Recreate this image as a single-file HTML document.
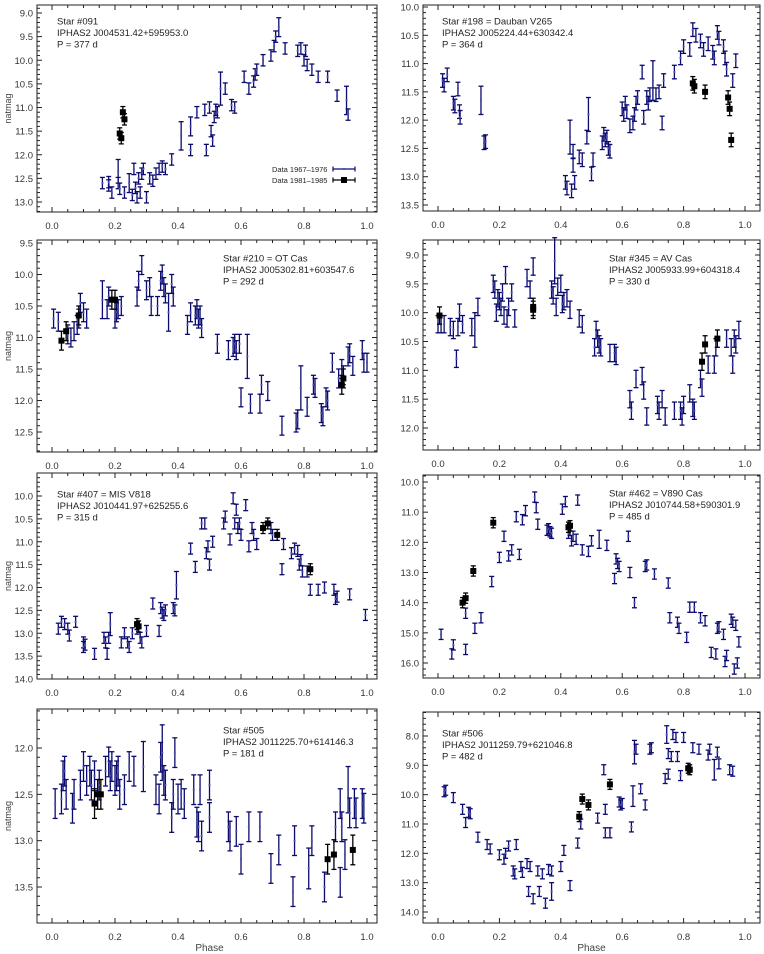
<!DOCTYPE html>
<html><head><meta charset="utf-8"><style>
html,body{margin:0;padding:0;background:#fff;}
svg{display:block;font-family:"Liberation Sans",sans-serif;}
</style></head><body>
<svg id="fig" width="764" height="954" viewBox="0 0 764 954" xmlns="http://www.w3.org/2000/svg"></svg>
<script>
// ---- data: [phase, mag, err?] ----
const p091Blue=[[0.16,12.6],[0.18,12.65],[0.18,12.58],[0.19,12.8],[0.21,12.35,0.25],[0.21,12.6],[0.215,12.72],[0.23,12.8],[0.245,12.6,0.2],[0.255,12.85],[0.26,12.3],[0.265,12.7],[0.27,12.9],[0.275,12.5],[0.28,12.8],[0.285,12.4],[0.29,12.3],[0.3,12.9],[0.31,12.5],[0.32,12.55],[0.33,12.4],[0.34,12.3],[0.35,12.25],[0.36,12.3],[0.38,12.1],[0.41,11.6,0.3],[0.44,11.4,0.2],[0.44,11.9],[0.46,11.1],[0.485,11.05],[0.49,11.9],[0.5,11.0],[0.505,11.5],[0.51,11.7],[0.515,11.2],[0.52,11.05],[0.525,11.1],[0.535,10.6,0.35],[0.55,10.6],[0.57,10.95],[0.58,11.0],[0.61,10.35],[0.625,10.6],[0.64,10.45],[0.645,10.3],[0.65,10.2],[0.67,10.0],[0.695,9.9],[0.705,9.7],[0.71,9.5],[0.72,9.3,0.2],[0.74,9.75],[0.78,9.8],[0.79,9.75],[0.8,10.0],[0.805,9.8],[0.81,10.1],[0.825,10.2],[0.845,10.35],[0.875,10.35],[0.905,10.75],[0.935,10.85,0.3],[0.94,11.15]];
const p091Black=[[0.215,11.55],[0.22,11.65],[0.225,11.1],[0.23,11.25]];
const p198Blue=[[0.015,11.3],[0.02,11.38],[0.03,11.2],[0.05,11.7],[0.055,11.75],[0.065,11.45],[0.07,11.85],[0.072,11.95],[0.14,11.65,0.25],[0.15,12.4],[0.155,12.38],[0.415,13.1],[0.42,13.2],[0.43,12.3,0.3],[0.435,13.25],[0.44,12.55],[0.44,12.8],[0.445,13.1],[0.46,12.65],[0.47,12.7],[0.485,12.3],[0.49,11.9,0.3],[0.5,12.95],[0.505,12.7],[0.535,12.4],[0.54,12.25],[0.545,12.35],[0.55,12.3],[0.555,12.5],[0.56,12.55],[0.6,11.8],[0.605,11.9],[0.61,11.7],[0.615,11.85],[0.625,12.1],[0.635,12.05],[0.64,11.9],[0.645,11.7],[0.65,11.6],[0.665,11.15],[0.67,11.95],[0.68,11.6],[0.685,11.7],[0.69,11.55],[0.7,11.3,0.35],[0.71,11.55],[0.72,11.5],[0.73,12.05],[0.735,11.3],[0.77,11.15],[0.79,10.9],[0.8,10.7],[0.82,10.75],[0.83,10.4],[0.84,10.5],[0.855,10.6],[0.865,10.75],[0.88,10.65],[0.895,10.8],[0.9,10.9],[0.91,10.45],[0.915,10.55],[0.93,10.7],[0.935,10.9],[0.94,11.1],[0.96,11.3],[0.97,10.95]];
const p198Black=[[0.83,11.35],[0.835,11.4],[0.87,11.5],[0.945,11.6],[0.95,11.8],[0.955,12.35]];
const p210Blue=[[0.005,10.7],[0.02,10.75],[0.05,10.95],[0.06,11.0],[0.07,10.9],[0.08,10.8],[0.085,10.7],[0.09,10.45],[0.1,10.6],[0.11,10.7],[0.16,10.4,0.3],[0.175,10.55],[0.18,10.35],[0.2,10.7],[0.205,10.6],[0.21,10.55],[0.22,10.5],[0.27,10.35],[0.275,10.1],[0.285,9.85],[0.3,10.25],[0.31,10.2],[0.315,10.5],[0.335,10.5],[0.345,10.1],[0.35,10.0],[0.355,10.2],[0.36,10.3],[0.37,10.6,0.3],[0.38,10.15],[0.385,10.35],[0.43,10.8],[0.44,10.6],[0.455,10.65],[0.46,10.55],[0.465,10.7],[0.47,10.65],[0.475,10.85],[0.525,11.1],[0.56,11.2],[0.575,11.15],[0.58,11.1],[0.585,11.2],[0.595,11.1],[0.62,11.3,0.35],[0.6,11.95],[0.63,12.05],[0.66,12.05],[0.665,11.75],[0.685,11.85],[0.73,12.4],[0.775,12.35],[0.78,12.3],[0.79,11.8,0.35],[0.81,12.1],[0.83,11.75],[0.835,11.8],[0.855,12.2],[0.86,12.25],[0.87,11.95],[0.875,12.0],[0.89,11.4],[0.91,11.65],[0.92,11.5],[0.925,11.6],[0.94,11.3],[0.945,11.25],[0.955,11.45],[0.985,11.2],[0.99,11.4],[1.0,11.4]];
const p210Black=[[0.03,11.05],[0.045,10.9],[0.085,10.65],[0.19,10.4],[0.2,10.4],[0.92,11.75],[0.925,11.65]];
const p345Blue=[[0.0,10.2],[0.01,10.2],[0.02,10.2],[0.04,10.25],[0.05,10.3],[0.06,10.8],[0.065,10.25],[0.07,10.0],[0.08,10.2],[0.11,10.25],[0.12,10.3,0.3],[0.13,9.9],[0.18,9.5],[0.185,9.6],[0.19,10.0],[0.195,9.75],[0.2,9.8],[0.205,9.9],[0.21,9.65],[0.215,10.05],[0.22,9.35],[0.225,10.1],[0.23,9.9],[0.24,9.65],[0.25,10.1],[0.29,9.4],[0.3,9.6],[0.31,9.2],[0.37,9.6],[0.375,9.7],[0.38,9.1,0.4],[0.385,9.9],[0.39,9.55],[0.4,9.5],[0.405,9.85],[0.41,9.8],[0.42,9.75],[0.43,9.95],[0.46,10.1],[0.47,10.2],[0.51,10.6],[0.515,10.3],[0.52,10.45],[0.525,10.55],[0.53,10.6],[0.56,10.7],[0.575,10.7],[0.58,10.75],[0.625,11.5],[0.63,11.7],[0.645,11.15],[0.665,11.1],[0.67,11.35],[0.68,11.8],[0.715,11.6],[0.72,11.7],[0.73,11.5],[0.74,11.8],[0.77,11.7],[0.79,11.7],[0.795,11.8],[0.8,11.6],[0.82,11.4],[0.83,11.65],[0.835,11.7],[0.855,11.15],[0.86,11.3],[0.88,10.9],[0.9,10.9],[0.905,10.6],[0.94,10.45],[0.955,10.6],[0.96,10.9],[0.965,10.45],[0.97,10.55],[0.98,10.3]];
const p345Black=[[0.005,10.05],[0.31,9.9],[0.31,9.95],[0.86,10.85],[0.87,10.55],[0.91,10.45]];
const p407Blue=[[0.02,12.9],[0.03,12.75],[0.04,12.8],[0.05,12.9],[0.055,13.05],[0.075,12.75],[0.1,13.2],[0.1,13.3],[0.105,13.25],[0.135,13.45],[0.165,13.1],[0.17,13.2],[0.175,13.45],[0.18,13.1],[0.185,12.8,0.25],[0.22,13.2],[0.23,13.0],[0.24,13.2],[0.245,13.3],[0.255,13.0],[0.27,12.9],[0.28,13.1],[0.285,13.2],[0.3,12.95],[0.32,12.35],[0.34,12.95],[0.345,12.45],[0.35,12.55],[0.355,12.6],[0.36,12.5],[0.385,12.45],[0.39,12.5],[0.395,11.95,0.3],[0.44,11.15],[0.455,11.55],[0.475,10.6],[0.485,10.6],[0.49,11.25],[0.495,11.1],[0.5,11.5],[0.51,11.0],[0.545,10.6],[0.55,10.45],[0.565,10.95],[0.575,10.05],[0.58,10.6],[0.585,10.3],[0.59,10.7],[0.595,10.6],[0.6,10.85],[0.615,10.2],[0.625,11.1],[0.635,10.7],[0.64,10.85],[0.65,11.05],[0.695,10.7],[0.7,10.85],[0.73,11.6],[0.735,11.05],[0.76,11.25],[0.77,11.15],[0.78,11.2],[0.785,11.5],[0.79,11.4],[0.795,11.65],[0.81,11.65],[0.82,12.05],[0.845,12.05],[0.865,12.0],[0.895,12.05],[0.9,12.25],[0.905,12.2],[0.945,12.15],[0.995,12.6]];
const p407Black=[[0.27,12.8],[0.275,12.85],[0.67,10.7],[0.685,10.6],[0.715,10.85],[0.82,11.6]];
const p462Blue=[[0.01,15.05],[0.045,15.7],[0.05,15.4],[0.09,15.55],[0.09,14.35],[0.12,14.85],[0.14,14.5],[0.175,13.3],[0.2,12.5],[0.215,11.8],[0.23,12.45],[0.24,12.25],[0.255,11.15],[0.265,12.4],[0.275,11.25],[0.285,10.95],[0.315,10.5],[0.32,10.85],[0.325,11.4],[0.355,11.6],[0.36,11.55],[0.365,11.65],[0.37,11.7],[0.405,10.9],[0.415,10.65],[0.425,11.7],[0.43,11.6],[0.435,11.95],[0.44,11.8],[0.45,11.9],[0.455,10.6],[0.47,12.25],[0.49,12.3],[0.5,11.95],[0.525,11.9,0.3],[0.55,12.1],[0.575,13.2],[0.58,12.55],[0.585,12.7],[0.59,12.8],[0.62,11.8],[0.625,13.0],[0.64,14.0],[0.675,12.8],[0.68,12.75],[0.705,13.05],[0.75,13.35],[0.755,14.5],[0.78,14.65],[0.785,14.85],[0.81,15.15],[0.82,14.15],[0.835,14.15],[0.855,14.5],[0.87,14.6],[0.89,15.65],[0.905,15.7],[0.91,14.85],[0.915,14.8],[0.93,15.05],[0.935,15.95],[0.94,15.75],[0.955,14.55],[0.96,14.65],[0.965,16.2],[0.97,14.75],[0.975,16.0],[0.98,15.3]];
const p462Black=[[0.08,14.0],[0.09,13.85],[0.115,12.95],[0.18,11.35],[0.425,11.5],[0.43,11.45]];
const p505Blue=[[0.01,12.6],[0.03,12.55],[0.035,12.3],[0.04,12.25],[0.045,12.5],[0.065,12.65],[0.07,12.5],[0.09,12.4],[0.1,12.2],[0.11,12.35],[0.12,12.25],[0.125,12.4],[0.135,12.3],[0.15,12.4],[0.17,12.25],[0.18,12.15],[0.185,12.3],[0.19,12.2],[0.2,12.35],[0.205,12.3],[0.21,12.25],[0.215,12.5],[0.23,12.45],[0.245,12.2],[0.26,12.25],[0.29,12.2,0.27],[0.33,12.45],[0.34,12.55],[0.345,12.1],[0.35,12.05,0.3],[0.355,12.35],[0.36,12.4],[0.38,12.75],[0.385,12.5],[0.39,12.05],[0.4,12.55],[0.41,12.5],[0.42,12.6],[0.45,12.45],[0.46,12.8],[0.465,12.85],[0.47,12.45],[0.475,12.95],[0.5,12.4],[0.5,12.75],[0.56,12.85],[0.565,12.95],[0.585,12.9],[0.6,13.2],[0.625,12.85],[0.66,12.85],[0.695,13.3],[0.72,13.1],[0.765,13.55],[0.77,13.0],[0.815,13.3,0.22],[0.825,13.0],[0.865,13.5],[0.9,12.85],[0.915,12.6],[0.915,13.45],[0.92,12.85],[0.93,13.15],[0.94,12.45,0.25],[0.945,12.7],[0.96,12.6],[0.965,12.7],[0.985,12.6],[0.99,12.65]];
const p505Black=[[0.135,12.6],[0.145,12.5],[0.155,12.5],[0.875,13.2],[0.895,13.15],[0.955,13.1]];
const p506Blue=[[0.02,9.9],[0.025,9.85],[0.05,10.1],[0.08,10.5],[0.09,10.95],[0.1,10.6],[0.105,10.65],[0.13,11.45],[0.16,11.7],[0.17,11.85],[0.2,12.05],[0.215,12.2],[0.22,12.0],[0.23,11.75],[0.245,12.6],[0.25,12.7],[0.255,11.7],[0.27,12.45],[0.275,12.65],[0.29,12.35],[0.295,13.3],[0.3,12.45],[0.31,13.55],[0.325,12.6],[0.33,13.3],[0.34,12.7],[0.35,13.7],[0.36,12.55],[0.37,13.3,0.3],[0.37,12.6],[0.4,12.45],[0.41,11.9],[0.43,13.1],[0.455,11.65],[0.465,11.0],[0.54,9.15],[0.545,10.5],[0.545,11.3],[0.56,11.3],[0.52,10.8],[0.59,10.25],[0.595,10.35],[0.6,10.3],[0.63,11.1],[0.635,10.05,0.35],[0.64,8.55,0.4],[0.645,8.45],[0.66,9.8],[0.675,10.35],[0.69,8.45],[0.695,8.4],[0.74,9.45],[0.745,7.95,0.3],[0.75,8.6],[0.75,9.3],[0.76,8.7],[0.765,7.95],[0.775,8.05],[0.78,8.7],[0.79,9.35],[0.8,8.05],[0.83,8.4],[0.85,8.45],[0.88,8.65],[0.885,8.45],[0.9,9.15,0.35],[0.91,8.55],[0.915,8.95],[0.95,9.15],[0.96,9.2]];
const p506Black=[[0.46,10.75],[0.47,10.15],[0.49,10.35],[0.56,9.65],[0.815,9.1],[0.82,9.15]];
const xTicks=[0,0.2,0.4,0.6,0.8,1.0];

const NS="http://www.w3.org/2000/svg";
const svg=document.getElementById('fig');
function mk(tag,attrs,parent){const e=document.createElementNS(NS,tag);for(const k in attrs)e.setAttribute(k,attrs[k]);(parent||svg).appendChild(e);return e;}

const panels=[
 {id:'091',L:37,R:377,T:5,B:212,x0:52,x1:367,ya:9.0,pa:13,yb:13.0,pb:202,yt:[9.0,9.5,10.0,10.5,11.0,11.5,12.0,12.5,13.0],minor:0.1,blue:p091Blue,black:p091Black,err:0.12,tx:57,ty:21,lines:['Star #091','IPHAS2 J004531.42+595953.0','P = 377 d'],ylab:true,legend:true},
 {id:'198',L:423,R:760,T:5,B:211,x0:438,x1:745,ya:10.0,pa:7,yb:13.5,pb:205,yt:[10.0,10.5,11.0,11.5,12.0,12.5,13.0,13.5],minor:0.1,blue:p198Blue,black:p198Black,err:0.12,tx:442,ty:21,lines:['Star #198 = Dauban V265','IPHAS2 J005224.44+630342.4','P = 364 d']},
 {id:'210',L:37,R:377,T:240,B:452,x0:52,x1:367,ya:9.5,pa:243,yb:12.5,pb:432,yt:[9.5,10.0,10.5,11.0,11.5,12.0,12.5],minor:0.1,blue:p210Blue,black:p210Black,err:0.15,tx:223,ty:258,lines:['Star #210 = OT Cas','IPHAS2 J005302.81+603547.6','P = 292 d'],ylab:true},
 {id:'345',L:423,R:760,T:240,B:450,x0:438,x1:745,ya:9.0,pa:255,yb:12.0,pb:428,yt:[9.0,9.5,10.0,10.5,11.0,11.5,12.0],minor:0.1,blue:p345Blue,black:p345Black,err:0.15,tx:609,ty:258,lines:['Star #345 = AV Cas','IPHAS2 J005933.99+604318.4','P = 330 d']},
 {id:'407',L:37,R:377,T:473,B:679,x0:52,x1:367,ya:10.0,pa:496,yb:14.0,pb:679,yt:[10.0,10.5,11.0,11.5,12.0,12.5,13.0,13.5,14.0],minor:0.1,blue:p407Blue,black:p407Black,err:0.12,tx:57,ty:494,lines:['Star #407 = MIS V818','IPHAS2 J010441.97+625255.6','P = 315 d'],ylab:true},
 {id:'462',L:423,R:760,T:475,B:678,x0:438,x1:745,ya:10.0,pa:482,yb:16.0,pb:663,yt:[10.0,11.0,12.0,13.0,14.0,15.0,16.0],minor:0.2,blue:p462Blue,black:p462Black,err:0.17,tx:609,ty:493,lines:['Star #462 = V890 Cas','IPHAS2 J010744.58+590301.9','P = 485 d']},
 {id:'505',L:37,R:377,T:709,B:923,x0:52,x1:367,ya:12.0,pa:748,yb:13.5,pb:887,yt:[12.0,12.5,13.0,13.5],minor:0.1,blue:p505Blue,black:p505Black,err:0.16,tx:223,ty:730,lines:['Star #505','IPHAS2 J011225.70+614146.3','P = 181 d'],ylab:true,xlab:true},
 {id:'506',L:423,R:760,T:712,B:923,x0:438,x1:745,ya:8.0,pa:736,yb:14.0,pb:912,yt:[8.0,9.0,10.0,11.0,12.0,13.0,14.0],minor:0.2,blue:p506Blue,black:p506Black,err:0.17,tx:442,ty:733,lines:['Star #506','IPHAS2 J011259.79+621046.8','P = 482 d'],xlab:true}
];
const NAVY='#0b0b6e';
panels.forEach(p=>{
  const g=mk('g',{});
  
  
  const sx=v=>p.x0+(p.x1-p.x0)*v;
  const sy=v=>p.pa+(p.pb-p.pa)*(v-p.ya)/(p.yb-p.ya);
  const fr=mk('rect',{x:p.L,y:p.T,width:p.R-p.L,height:p.B-p.T,fill:'none',stroke:'#222','stroke-width':1},g);
  
  
  // x ticks
  for(let i=-1;i<=21;i++){const v=i*0.05;const X=sx(v);if(X<=p.L+0.5||X>=p.R-0.5)continue;const major=(i%4===0);const len=major?5:3;
    mk('line',{x1:X,y1:p.B,x2:X,y2:p.B-len,stroke:'#222'},g);mk('line',{x1:X,y1:p.T,x2:X,y2:p.T+len,stroke:'#222'},g);}
  xTicks.forEach(v=>{const t=mk('text',{x:sx(v),y:p.B+17,'font-size':9.5,fill:'#333','text-anchor':'middle'},g);t.textContent=v.toFixed(1);
    
    });
  // y ticks
  const lo=Math.min(p.ya,p.yb)-2,hi=Math.max(p.ya,p.yb)+2;const step=p.yt[1]-p.yt[0];
  for(let v=p.yt[0]-2*step;v<=p.yt[p.yt.length-1]+2*step+1e-9;v+=p.minor){const Y=sy(v);if(Y<=p.T+0.5||Y>=p.B-0.5)continue;
    const r=Math.abs(v/step-Math.round(v/step))<1e-6;const len=r?5:3;
    mk('line',{x1:p.L,y1:Y,x2:p.L+len,y2:Y,stroke:'#222'},g);mk('line',{x1:p.R,y1:Y,x2:p.R-len,y2:Y,stroke:'#222'},g);}
  p.yt.forEach(v=>{const t=mk('text',{x:p.L-4,y:sy(v)+3.5,'font-size':9.5,fill:'#333','text-anchor':'end'},g);t.textContent=v.toFixed(1);
    
    });
  // points
  const drawPt=(d,black)=>{const e=(d[2]!==undefined?d[2]:p.err);const X=sx(d[0]),Y=sy(d[1]),Y1=sy(d[1]-e),Y2=sy(d[1]+e);const col=black?'#000':NAVY;
    const pg=mk('g',{},g);
    
    
    mk('line',{x1:X,y1:Y1,x2:X,y2:Y2,stroke:col,'stroke-width':1.3},pg);
    mk('line',{x1:X-2.5,y1:Y1,x2:X+2.5,y2:Y1,stroke:col,'stroke-width':1.3},pg);
    mk('line',{x1:X-2.5,y1:Y2,x2:X+2.5,y2:Y2,stroke:col,'stroke-width':1.3},pg);
    if(black)mk('rect',{x:X-3,y:Y-3,width:6,height:6,fill:'#000'},pg);
    else mk('rect',{x:X-1,y:Y-1,width:2,height:2,fill:'#5050b0'},pg);};
  p.blue.forEach(d=>drawPt(d,false));
  p.black.forEach(d=>drawPt(d,true));
  // annotation
  p.lines.forEach((s,i)=>{const t=mk('text',{x:p.tx,y:p.ty+3.5+i*11.5,'font-size':9.5,fill:'#222'},g);t.textContent=s;
    
    });
  if(p.ylab){const t=mk('text',{x:11,y:(p.T+p.B)/2,'font-size':9,fill:'#444','text-anchor':'middle',transform:'rotate(-90 11 '+((p.T+p.B)/2)+')'},g);t.textContent='natmag';
    
    }
  if(p.xlab){const t=mk('text',{x:sx(0.5),y:951,'font-size':10,fill:'#444','text-anchor':'middle'},g);t.textContent='Phase';
    
    }
  if(p.legend){
    const lg=mk('g',{},g);
    
    
    const a=mk('text',{x:272,y:172,'font-size':7.5,fill:'#222'},lg);a.textContent='Data 1967–1976';
    
    
    mk('line',{x1:333,y1:169,x2:355,y2:169,stroke:NAVY,'stroke-width':1.2},lg);
    mk('line',{x1:333,y1:166.5,x2:333,y2:171.5,stroke:NAVY,'stroke-width':1.2},lg);
    mk('line',{x1:355,y1:166.5,x2:355,y2:171.5,stroke:NAVY,'stroke-width':1.2},lg);
    mk('rect',{x:343,y:168,width:2,height:2,fill:'#5050b0'},lg);
    const b=mk('text',{x:272,y:183,'font-size':7.5,fill:'#222'},lg);b.textContent='Data 1981–1985';
    
    
    mk('line',{x1:333,y1:180,x2:355,y2:180,stroke:'#000','stroke-width':1.2},lg);
    mk('line',{x1:333,y1:177.5,x2:333,y2:182.5,stroke:'#000','stroke-width':1.2},lg);
    mk('line',{x1:355,y1:177.5,x2:355,y2:182.5,stroke:'#000','stroke-width':1.2},lg);
    mk('rect',{x:341,y:177,width:6,height:6,fill:'#000'},lg);
  }
});
</script>
</body></html>
